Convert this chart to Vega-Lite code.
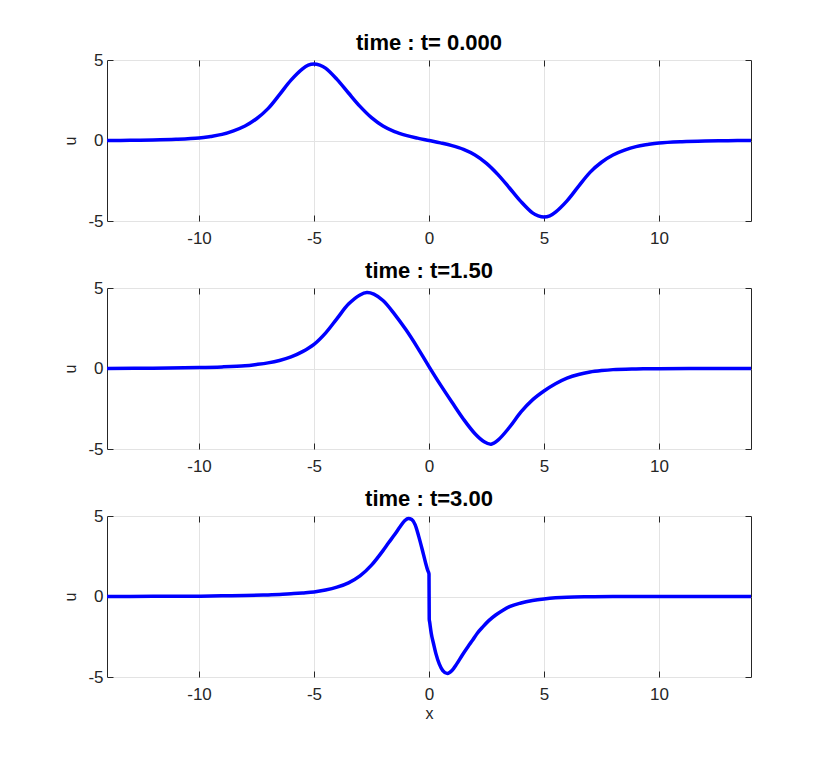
{
  "$schema": "https://vega.github.io/schema/vega-lite/v6.json",
  "background": "white",
  "padding": {"left": 62, "top": 31, "right": 5, "bottom": 5},
  "spacing": 67,
  "bounds": "flush",
  "config": {
    "font": "Liberation Sans",
    "view": {"stroke": "#262626", "strokeWidth": 1},
    "axis": {
      "domain": false,
      "grid": true,
      "gridColor": "#e3e3e3",
      "gridWidth": 1,
      "tickColor": "#262626",
      "tickSize": -6,
      "tickWidth": 1,
      "labelFont": "Liberation Sans",
      "labelFontSize": 17,
      "labelColor": "#262626",
      "labelExpr": "replace(datum.label, '−', '-')",
      "titleFont": "Liberation Sans",
      "titleFontSize": 16,
      "titleFontWeight": "normal",
      "titleColor": "#262626"
    },
    "title": {"font": "Liberation Sans", "fontSize": 22, "fontWeight": "bold", "color": "#000000", "offset": -4}
  },
  "datasets": {
    "t0": [
      {"x": -14, "u": 0}, {"x": -13, "u": 0.01}, {"x": -12, "u": 0.03}, {"x": -11, "u": 0.07},
      {"x": -10, "u": 0.15}, {"x": -9.5, "u": 0.25}, {"x": -9, "u": 0.38}, {"x": -8.5, "u": 0.6},
      {"x": -8, "u": 0.9}, {"x": -7.5, "u": 1.35}, {"x": -7, "u": 1.98}, {"x": -6.5, "u": 2.85},
      {"x": -6, "u": 3.75}, {"x": -5.5, "u": 4.45}, {"x": -5.25, "u": 4.68}, {"x": -5, "u": 4.75},
      {"x": -4.75, "u": 4.68}, {"x": -4.5, "u": 4.5}, {"x": -4, "u": 3.8}, {"x": -3.5, "u": 2.95},
      {"x": -3, "u": 2.12}, {"x": -2.5, "u": 1.42}, {"x": -2, "u": 0.9}, {"x": -1.5, "u": 0.55},
      {"x": -1, "u": 0.32}, {"x": -0.5, "u": 0.15}, {"x": 0, "u": 0},
      {"x": 0.5, "u": -0.15}, {"x": 1, "u": -0.32}, {"x": 1.5, "u": -0.55}, {"x": 2, "u": -0.9},
      {"x": 2.5, "u": -1.42}, {"x": 3, "u": -2.12}, {"x": 3.5, "u": -2.95}, {"x": 4, "u": -3.8},
      {"x": 4.5, "u": -4.5}, {"x": 4.75, "u": -4.68}, {"x": 5, "u": -4.75}, {"x": 5.25, "u": -4.68},
      {"x": 5.5, "u": -4.45}, {"x": 6, "u": -3.75}, {"x": 6.5, "u": -2.85}, {"x": 7, "u": -1.98},
      {"x": 7.5, "u": -1.35}, {"x": 8, "u": -0.9}, {"x": 8.5, "u": -0.6}, {"x": 9, "u": -0.38},
      {"x": 9.5, "u": -0.25}, {"x": 10, "u": -0.15}, {"x": 11, "u": -0.07}, {"x": 12, "u": -0.03},
      {"x": 13, "u": -0.01}, {"x": 14, "u": 0}
    ],
    "t15": [
      {"x": -14, "u": 0}, {"x": -12, "u": 0.02}, {"x": -10, "u": 0.06}, {"x": -9, "u": 0.1},
      {"x": -8, "u": 0.17}, {"x": -7.5, "u": 0.25}, {"x": -7, "u": 0.35}, {"x": -6.5, "u": 0.5},
      {"x": -6, "u": 0.72}, {"x": -5.5, "u": 1.05}, {"x": -5, "u": 1.5}, {"x": -4.5, "u": 2.2},
      {"x": -4, "u": 3.1}, {"x": -3.5, "u": 4.0}, {"x": -3, "u": 4.57}, {"x": -2.7, "u": 4.72},
      {"x": -2.4, "u": 4.62}, {"x": -2, "u": 4.22}, {"x": -1.5, "u": 3.38}, {"x": -1, "u": 2.4},
      {"x": -0.5, "u": 1.3}, {"x": 0, "u": 0.12}, {"x": 0.5, "u": -1.02}, {"x": 1, "u": -2.1},
      {"x": 1.5, "u": -3.15}, {"x": 2, "u": -4.05}, {"x": 2.4, "u": -4.55}, {"x": 2.7, "u": -4.7},
      {"x": 3, "u": -4.45}, {"x": 3.5, "u": -3.65}, {"x": 4, "u": -2.7}, {"x": 4.5, "u": -1.95},
      {"x": 5, "u": -1.4}, {"x": 5.5, "u": -0.95}, {"x": 6, "u": -0.6}, {"x": 6.5, "u": -0.37},
      {"x": 7, "u": -0.22}, {"x": 7.5, "u": -0.13}, {"x": 8, "u": -0.07}, {"x": 9, "u": -0.03},
      {"x": 10, "u": -0.01}, {"x": 12, "u": 0}, {"x": 14, "u": 0}
    ],
    "t3": [
      {"x": -14, "u": 0}, {"x": -12, "u": 0.01}, {"x": -10, "u": 0.02}, {"x": -9, "u": 0.04},
      {"x": -8, "u": 0.06}, {"x": -7, "u": 0.1}, {"x": -6.5, "u": 0.12}, {"x": -6, "u": 0.17},
      {"x": -5.5, "u": 0.22}, {"x": -5, "u": 0.28}, {"x": -4.5, "u": 0.4}, {"x": -4, "u": 0.58},
      {"x": -3.5, "u": 0.85}, {"x": -3, "u": 1.28}, {"x": -2.5, "u": 1.95}, {"x": -2, "u": 2.85},
      {"x": -1.75, "u": 3.35}, {"x": -1.5, "u": 3.83}, {"x": -1.25, "u": 4.35}, {"x": -1.05, "u": 4.72},
      {"x": -0.9, "u": 4.85}, {"x": -0.75, "u": 4.78}, {"x": -0.6, "u": 4.45}, {"x": -0.45, "u": 3.75},
      {"x": -0.3, "u": 2.95}, {"x": -0.15, "u": 2.1}, {"x": -0.05, "u": 1.6}, {"x": 0, "u": 1.4},
      {"x": 0.01, "u": -1.4}, {"x": 0.03, "u": -1.6}, {"x": 0.1, "u": -2.3}, {"x": 0.2, "u": -2.95},
      {"x": 0.3, "u": -3.55}, {"x": 0.45, "u": -4.2}, {"x": 0.6, "u": -4.6}, {"x": 0.8, "u": -4.78},
      {"x": 1.0, "u": -4.6}, {"x": 1.2, "u": -4.2}, {"x": 1.45, "u": -3.63}, {"x": 1.7, "u": -3.1},
      {"x": 1.9, "u": -2.7}, {"x": 2.1, "u": -2.28}, {"x": 2.35, "u": -1.87}, {"x": 2.6, "u": -1.5},
      {"x": 2.9, "u": -1.15}, {"x": 3.2, "u": -0.87}, {"x": 3.5, "u": -0.63}, {"x": 4.0, "u": -0.4},
      {"x": 4.5, "u": -0.25}, {"x": 5, "u": -0.15}, {"x": 5.5, "u": -0.08}, {"x": 6, "u": -0.04},
      {"x": 7, "u": -0.015}, {"x": 8, "u": 0}, {"x": 14, "u": 0}
    ]
  },
  "vconcat": [
    {
      "title": "time : t= 0.000",
      "width": 644, "height": 161,
      "data": {"name": "t0"},
      "layer": [
        {"mark": {"type": "line", "color": "#0000ff", "strokeWidth": 3.5, "interpolate": "catmull-rom", "clip": true},
         "encoding": {
           "x": {"field": "x", "type": "quantitative", "scale": {"domain": [-14, 14], "nice": false},
                 "axis": {"orient": "bottom", "values": [-10, -5, 0, 5, 10], "title": null, "labelPadding": 15}},
           "y": {"field": "u", "type": "quantitative", "scale": {"domain": [-5, 5], "nice": false},
                 "axis": {"orient": "left", "values": [-5, 0, 5], "title": "u", "labelPadding": 10, "titlePadding": 9}}
         }},
        {"mark": {"type": "line", "opacity": 0},
         "encoding": {
           "x": {"field": "x", "type": "quantitative", "axis": {"orient": "top", "values": [-10, -5, 0, 5, 10], "labels": false, "grid": false, "title": null}},
           "y": {"field": "u", "type": "quantitative", "axis": {"orient": "right", "values": [-5, 0, 5], "labels": false, "grid": false, "title": null}}
         }}
      ]
    },
    {
      "title": "time : t=1.50",
      "width": 644, "height": 161,
      "data": {"name": "t15"},
      "layer": [
        {"mark": {"type": "line", "color": "#0000ff", "strokeWidth": 3.5, "interpolate": "catmull-rom", "clip": true},
         "encoding": {
           "x": {"field": "x", "type": "quantitative", "scale": {"domain": [-14, 14], "nice": false},
                 "axis": {"orient": "bottom", "values": [-10, -5, 0, 5, 10], "title": null, "labelPadding": 15}},
           "y": {"field": "u", "type": "quantitative", "scale": {"domain": [-5, 5], "nice": false},
                 "axis": {"orient": "left", "values": [-5, 0, 5], "title": "u", "labelPadding": 10, "titlePadding": 9}}
         }},
        {"mark": {"type": "line", "opacity": 0},
         "encoding": {
           "x": {"field": "x", "type": "quantitative", "axis": {"orient": "top", "values": [-10, -5, 0, 5, 10], "labels": false, "grid": false, "title": null}},
           "y": {"field": "u", "type": "quantitative", "axis": {"orient": "right", "values": [-5, 0, 5], "labels": false, "grid": false, "title": null}}
         }}
      ]
    },
    {
      "title": "time : t=3.00",
      "width": 644, "height": 161,
      "data": {"name": "t3"},
      "layer": [
        {"mark": {"type": "line", "color": "#0000ff", "strokeWidth": 3.5, "interpolate": "monotone", "clip": true},
         "encoding": {
           "x": {"field": "x", "type": "quantitative", "scale": {"domain": [-14, 14], "nice": false},
                 "axis": {"orient": "bottom", "values": [-10, -5, 0, 5, 10], "title": "x", "labelPadding": 15, "titlePadding": 3}},
           "y": {"field": "u", "type": "quantitative", "scale": {"domain": [-5, 5], "nice": false},
                 "axis": {"orient": "left", "values": [-5, 0, 5], "title": "u", "labelPadding": 10, "titlePadding": 9}}
         }},
        {"mark": {"type": "line", "opacity": 0},
         "encoding": {
           "x": {"field": "x", "type": "quantitative", "axis": {"orient": "top", "values": [-10, -5, 0, 5, 10], "labels": false, "grid": false, "title": null}},
           "y": {"field": "u", "type": "quantitative", "axis": {"orient": "right", "values": [-5, 0, 5], "labels": false, "grid": false, "title": null}}
         }}
      ]
    }
  ]
}
